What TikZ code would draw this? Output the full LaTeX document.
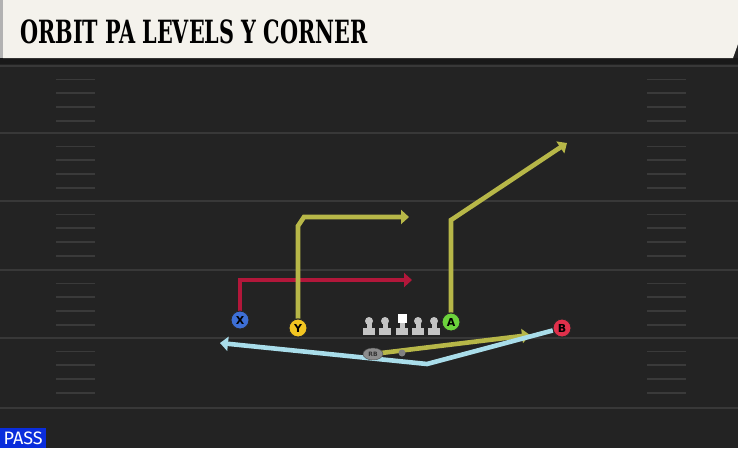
\documentclass[tikz,border=0pt]{standalone}
\usepackage{fontspec}
\setmainfont{DejaVu Sans}
\newfontfamily\titlefont{DejaVu Serif Condensed}
\newfontfamily\tagfont{Fira Sans}
\usetikzlibrary{arrows.meta,shapes.geometric}
\pgfdeclarelayer{fieldlayer}
\pgfdeclarelayer{routelayer}
\pgfsetlayers{fieldlayer,routelayer,main}
\definecolor{field}{HTML}{232323}
\definecolor{fieldline}{HTML}{383838}
\definecolor{hashmark}{HTML}{3A3A3A}
\definecolor{header}{HTML}{F4F2EC}
\definecolor{xblue}{HTML}{3D6FD6}
\definecolor{yyellow}{HTML}{F2C521}
\definecolor{agreen}{HTML}{6CD23C}
\definecolor{bred}{HTML}{E0304B}
\definecolor{redroute}{HTML}{B2173A}
\definecolor{olive}{HTML}{B7B748}
\definecolor{orbit}{HTML}{A9DDEA}
\definecolor{lineman}{HTML}{C4C4C4}
\definecolor{passblue}{HTML}{0A2DDC}
\tikzset{
  route/.style={line width=4.6pt, line join=miter, -{Triangle[length=8pt,width=14pt]}},
  player/.style={circle, draw=black!85, line width=0.9pt, minimum size=18pt, inner sep=0pt,
    font=\bfseries\fontsize{11}{11}\selectfont},
  back/.style={ellipse, fill=black!45, draw=black!70, minimum width=20pt, minimum height=12pt,
    inner sep=0pt, font=\bfseries\fontsize{6}{6}\selectfont, text=black!80},
  yardline/.style={fieldline, line width=2pt},
  hash/.style={hashmark, line width=1.8pt},
}
\begin{document}
\begin{tikzpicture}[x=1pt,y=-1pt]
\useasboundingbox (0,0) rectangle (738,448);
% field
\begin{pgfonlayer}{fieldlayer}
\fill[field] (0,0) rectangle (738,448);
\foreach \ly in {66,133,201,270,338,408} {
  \draw[yardline] (0,\ly) -- (738,\ly);
}
\foreach \ly in {66,133,201,270,338} {
  \foreach \dy in {13.5,27,41,55} {
    \draw[hash] (56,\ly+\dy) -- (95,\ly+\dy);
    \draw[hash] (647,\ly+\dy) -- (686,\ly+\dy);
  }
}
\end{pgfonlayer}
% header
\fill[black!90] (0,58) rectangle (738,64);
\fill[black!30] (0,0) rectangle (3,58);
\fill[header] (3,0) -- (738,0) -- (738,44) -- (733,58) -- (3,58) -- cycle;
\node[anchor=west, inner sep=0pt] (title) at (20,32)
  {\scalebox{0.72}[1]{\titlefont\bfseries\fontsize{32}{32}\selectfont ORBIT PA LEVELS Y CORNER}};
% players
\node[player, fill=xblue] (X) at (240,320) {X};
\node[player, fill=yyellow] (Y) at (298,328) {Y};
\node[player, fill=agreen] (A) at (451,322) {A};
\node[player, fill=bred] (B) at (562,328) {B};
\node[back] (RB) at (373,354) {RB};
\node[circle, fill=black!50, minimum size=7pt, inner sep=0pt] (QB) at (402,353) {};
% routes
\coordinate (xturn) at (240,280);
\coordinate (xend) at (412,280);
\coordinate (yup) at (298,226);
\coordinate (ybend) at (304,217);
\coordinate (yend) at (409,217);
\coordinate (aturn) at (451,220);
\coordinate (aend) at (567,143);
\coordinate (rbend) at (530,335);
\coordinate (orbitlow) at (427,364);
\coordinate (orbitend) at (220,343);
\begin{pgfonlayer}{routelayer}
\draw[route, redroute] (X) -- (xturn) -- (xend);
\draw[route, olive] (Y) -- (yup) -- (ybend) -- (yend);
\draw[route, olive] (A) -- (aturn) -- (aend);
\draw[route, olive] (RB.center) -- (rbend);
\draw[route, orbit] (B) -- (orbitlow) -- (orbitend);
\end{pgfonlayer}
% line
\foreach \lx/\nm in {369/l1,385/l2,418/l3,434/l4} {
  \fill[lineman] (\lx-6,328) rectangle (\lx+6,335);
  \fill[lineman] (\lx-2.5,321) rectangle (\lx+2.5,328);
  \node[circle, fill=lineman, minimum size=8pt, inner sep=0pt] (\nm) at (\lx,321) {};
}
\fill[lineman] (396,328) rectangle (408,335);
\fill[lineman] (399.5,321) rectangle (404.5,328);
\node[fill=white, minimum width=9pt, minimum height=9pt, inner sep=0pt] (C) at (402,318.5) {};
% tag
\node[fill=passblue, text=white, anchor=south west, minimum width=46pt, minimum height=20pt,
  inner sep=0pt, font=\tagfont\fontsize{18}{18}\selectfont] (pass) at (0,448) {PASS};
\end{tikzpicture}
\end{document}
